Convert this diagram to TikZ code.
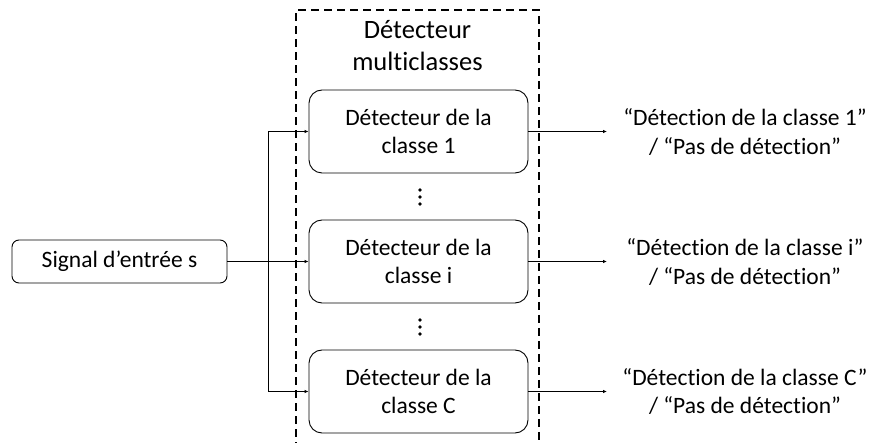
\documentclass[tikz,border=0pt]{standalone}
\usepackage{fontspec}
\setmainfont{Carlito}[Ligatures=NoCommon]
\usetikzlibrary{arrows.meta}
\begin{document}
\begin{tikzpicture}[x=1pt,y=-1pt,
  detbox/.style={draw=black, line width=0.9pt, rounded corners=13pt, minimum width=219pt, minimum height=83pt, align=center, inner sep=0pt, font=\fontsize{23.5}{28.7}\selectfont},
  sigbox/.style={draw=black, line width=0.9pt, rounded corners=7pt, minimum width=215pt, minimum height=43pt, inner sep=0pt, font=\fontsize{23.5}{28.7}\selectfont},
  outtxt/.style={align=center, inner sep=0pt, font=\fontsize{23.5}{28.7}\selectfont},
  titletxt/.style={align=center, inner sep=0pt, font=\fontsize{26.5}{32}\selectfont},
  arr/.style={line width=0.8pt, -{Latex[length=4pt,width=3.5pt]}},
  dashbox/.style={line width=1.5pt, dash pattern=on 8pt off 5pt},
  dot/.style={fill=black, draw=none}
]
\useasboundingbox (0,0) rectangle (873,443);
% dashed frame
\draw[dashbox] (296,450) -- (296,10) -- (539,10) -- (539,450);
\node[titletxt] (title) at (417.5,46) {Détecteur\\multiclasses};
% boxes
\node[detbox] (d1) at (418.5,131.5) {Détecteur de la\\classe 1};
\node[detbox] (d2) at (418.5,261.5) {Détecteur de la\\classe i};
\node[detbox] (d3) at (418.5,391.5) {Détecteur de la\\classe C};
\node[sigbox] (sig) at (119.5,261.5) {Signal d’entrée s};
% dots
\foreach \yy in {190,197,204} \fill[dot] (420,\yy) circle (1.9pt);
\foreach \yy in {320,327,334} \fill[dot] (420,\yy) circle (1.9pt);
% branch
\coordinate (br) at (268,261.5);
\draw[arr] (sig.east) -- (d2.west);
\draw[arr] (br) |- (d1.west);
\draw[arr] (br) |- (d3.west);
% outputs
\node[outtxt] (o1) at (745,132) {“Détection de la classe 1”\\/ “Pas de détection”};
\node[outtxt] (o2) at (745,262) {“Détection de la classe i”\\/ “Pas de détection”};
\node[outtxt] (o3) at (745,391.5) {“Détection de la classe C”\\/ “Pas de détection”};
\coordinate (e1) at (607,131.5);
\coordinate (e2) at (607,261.5);
\coordinate (e3) at (607,391.5);
\draw[arr] (d1.east) -- (e1);
\draw[arr] (d2.east) -- (e2);
\draw[arr] (d3.east) -- (e3);
\end{tikzpicture}
\end{document}
